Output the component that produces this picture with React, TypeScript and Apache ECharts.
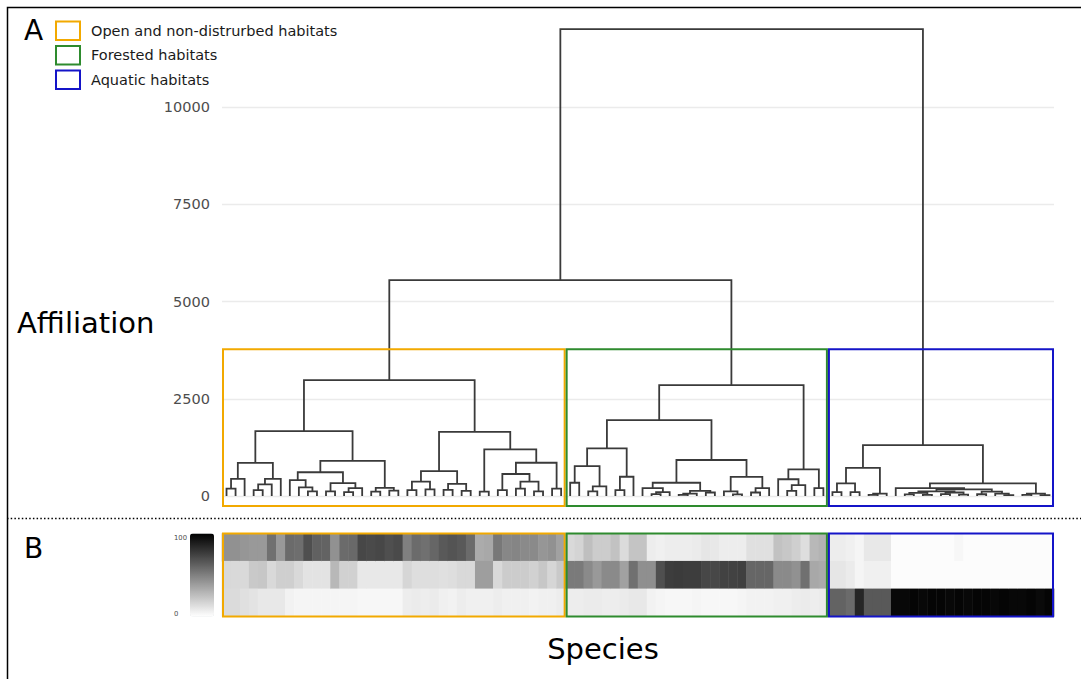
import React, { useEffect, useRef } from "react";
import * as echarts from "echarts";

// ---------- DATA ----------
// Dendrogram: internal node = [height, left, right], leaf = 0
type Tree = number | [number, Tree, Tree];

const openTree: Tree = [2980,
  [1670,
    [850, [440, [190, 0, 0], 0], [440, [300, [150, 0, 0], 0], 0]],
    [905,
      [610, [410, 0, [220, 0, [120, 0, 0]]], [330, [120, 0, 0], [200, [100, 0, 0], 0]]],
      [210, [110, 0, 0], [140, 0, 0]]]],
  [1650,
    [640, [370, [150, 0, 0], [170, 0, 0]], [310, [160, 0, 0], [130, 0, 0]]],
    [1200, [110, 0, 0],
      [855, [565, [150, 0, 0], [370, [190, 0, 0], [120, 0, 0]]], [190, 0, 0]]]]];

const forestTree: Tree = [2850,
  [1950,
    [1225, [770, [340, 0, 0], [250, [120, 0, 0], 0]], [495, [150, 0, 0], 0]],
    [925,
      [340, [200, 0, [100, [50, 0, 0], 0]], [130, [60, [30, 0, 0], 0], [90, 0, 0]]],
      [490, [120, 0, [40, 0, 0]], [200, [90, 0, 0], 0]]]],
  [685, [430, 0, [280, [130, 0, 0], 0]], [200, 0, 0]]];

const aquaticTree: Tree = [1310,
  [725, [325, [100, 0, 0], [100, 0, 0]], [60, [30, 0, 0], 0]],
  [325,
    [200, 0, [170,
      [120, [80, [40, 0, 0], [30, 0, 0]], [90, [50, 0, 0], [35, 0, 0]]],
      [110, [45, 0, 0], [60, 0, [25, 0, 0]]]]],
    [60, [30, 0, 0], [20, 0, 0]]]];

const rootHeight = 12000;
const terrestrialHeight = 5550;

const clusterNames = ["Open and non-distrurbed habitats", "Forested habitats", "Aquatic habitats"];
const clusterColors = ["#F2A900", "#2E8B2E", "#1414C8"];
const clusterLeafCounts = [38, 29, 25];
const boxBottom = -260;
const boxTop = 3770;

// Heatmap rows (affiliation scores 0-100), one value per species in leaf order
const openScores = [43, 43, 41, 40, 40, 56, 40, 58, 57, 69, 62, 61, 43, 58, 59, 72, 71, 72, 69, 71,
  50, 58, 56, 60, 65, 67, 65, 58, 33, 34, 53, 47, 48, 46, 46, 41, 43, 37,
  15, 17, 25, 20, 20, 24, 14, 23, 23, 7, 6, 7, 7, 7, 8, 10, 9, 7, 7, 7, 12, 12, 12, 24, 22, 19, 13, 28, 30,
  7, 7, 6, 4, 9, 9, 9, 1, 1, 1, 1, 1, 1, 1, 3, 1, 1, 1, 1, 1, 1, 1, 1, 1, 1];
const forestScores = [15, 15, 15, 21, 22, 15, 19, 19, 15, 11, 11, 11, 28, 18, 18, 9, 9, 9, 9, 9,
  16, 13, 13, 13, 12, 13, 15, 15, 38, 38, 15, 20, 20, 20, 18, 22, 16, 21,
  52, 52, 46, 40, 46, 46, 37, 56, 44, 44, 69, 76, 77, 76, 76, 72, 72, 74, 74, 75, 60, 60, 60, 46, 46, 43, 56, 34, 33,
  10, 10, 8, 4, 6, 6, 6, 1, 1, 1, 1, 1, 1, 1, 1, 1, 1, 1, 1, 1, 1, 1, 1, 1, 1];
const aquaticScores = [14, 14, 12, 11, 9, 9, 9, 5, 4, 4, 4, 4, 4, 4, 4, 3, 3, 3, 3, 3,
  7, 8, 7, 8, 6, 5, 7, 6, 6, 6, 7, 6, 6, 6, 5, 6, 6, 7,
  7, 7, 8, 8, 7, 7, 8, 9, 9, 5, 4, 3, 3, 3, 4, 3, 3, 3, 3, 4, 5, 5, 5, 6, 6, 7, 8, 7, 8,
  61, 61, 58, 85, 65, 65, 65, 97, 97, 98, 97, 98, 98, 97, 98, 97, 98, 98, 97, 98, 97, 97, 98, 96, 98];
const habitatRows = ["Aquatic", "Forested", "Open"]; // bottom to top

const yTickInterval = 2500;
const yMax = 12500;

// ---------- HELPERS ----------
function layoutTree(tree: Tree) {
  const segs: number[][][] = [];
  let leaf = 0;
  const walk = (t: Tree): { x: number; h: number } => {
    if (typeof t === "number") {
      leaf += 1;
      return { x: leaf, h: 0 };
    }
    const [h, a, b] = t;
    const l = walk(a);
    const r = walk(b);
    segs.push([[l.x, l.h], [l.x, h], [r.x, h], [r.x, r.h]]);
    return { x: (l.x + r.x) / 2, h };
  };
  walk(tree);
  return { segs, leaves: leaf };
}

const FONT = "DejaVu Sans";

export default function App() {
  const ref = useRef<HTMLDivElement>(null);

  useEffect(() => {
    if (!ref.current) return;
    const chart = echarts.init(ref.current, undefined, { renderer: "svg" });

    const fullTree: Tree = [rootHeight, [terrestrialHeight, openTree, forestTree], aquaticTree];
    const { segs, leaves } = layoutTree(fullTree);
    const N = leaves;
    const species = Array.from({ length: N }, (_, i) => "sp" + (i + 1));

    // cluster ranges in leaf units
    const ranges: number[][] = [];
    let start = 0.5;
    clusterLeafCounts.forEach((c) => {
      ranges.push([start, start + c]);
      start += c;
    });

    const heatData: number[][] = [];
    for (let i = 0; i < N; i++) {
      heatData.push([i, 2, openScores[i]]);
      heatData.push([i, 1, forestScores[i]]);
      heatData.push([i, 0, aquaticScores[i]]);
    }

    const boxSeries = (gridAxis: number, y0: number, y1: number) =>
      clusterNames.map((name, k) => ({
        type: "custom",
        name,
        xAxisIndex: gridAxis,
        yAxisIndex: gridAxis,
        silent: true,
        clip: false,
        z: 5,
        itemStyle: { color: clusterColors[k] },
        encode: { x: [0, 1], y: [2, 3] },
        data: [[ranges[k][0], ranges[k][1], y0, y1]],
        renderItem: (_p: any, api: any) => {
          const a = api.coord([api.value(0), api.value(3)]);
          const b = api.coord([api.value(1), api.value(2)]);
          return {
            type: "rect",
            shape: { x: a[0] + 1, y: a[1], width: b[0] - a[0] - 2, height: b[1] - a[1] },
            style: { fill: "none", stroke: clusterColors[k], lineWidth: 2 },
          };
        },
      }));

    const textStyleOf = (text: string, size: number, color: string, align: string) => ({
      text,
      fontSize: size,
      fontFamily: FONT,
      fill: color,
      align,
      verticalAlign: "middle",
      textAlign: align,
      textVerticalAlign: "middle",
    });

    const option: any = {
      animation: false,
      textStyle: { fontFamily: FONT },
      legend: {
        orient: "vertical",
        left: 55,
        top: 20.5,
        padding: 0,
        itemWidth: 24,
        itemHeight: 18.5,
        itemGap: 4,
        selectedMode: false,
        textStyle: { fontSize: 14.5, color: "#1a1a1a", fontFamily: FONT, padding: [0, 0, 0, 6], lineHeight: 16 },
        data: clusterNames.map((n, k) => ({
          name: n,
          icon: "rect",
          itemStyle: { color: "rgba(255,255,255,0)", borderColor: clusterColors[k], borderWidth: 2 },
        })),
      },
      grid: [
        { left: 222, top: 9.75, width: 832, height: 486.25 },
        { left: 222, top: 533.5, width: 832, height: 83 },
      ],
      xAxis: [
        { type: "value", gridIndex: 0, min: 0.5, max: N + 0.5, show: false },
        { type: "category", gridIndex: 1, data: species, show: false },
        { type: "value", gridIndex: 1, min: 0.5, max: N + 0.5, show: false },
      ],
      yAxis: [
        {
          type: "value",
          gridIndex: 0,
          min: 0,
          max: yMax,
          interval: yTickInterval,
          axisLine: { show: false },
          axisTick: { show: false },
          axisLabel: {
            margin: 12,
            fontSize: 14.5,
            color: "#4d4d4d",
            fontFamily: FONT,
            showMaxLabel: false,
            formatter: (v: number) => String(v),
          },
          splitLine: { showMaxLine: false, lineStyle: { color: "#ebebeb", width: 1.3 } },
        },
        { type: "category", gridIndex: 1, data: habitatRows, show: false },
        { type: "value", gridIndex: 1, min: 0, max: 3, show: false },
      ],
      visualMap: {
        type: "continuous",
        min: 0,
        max: 100,
        seriesIndex: 4,
        orient: "vertical",
        left: 190,
        top: 533.5,
        padding: 0,
        itemWidth: 24,
        itemHeight: 83,
        calculable: false,
        hoverLink: false,
        inRange: { color: ["#ffffff", "#000000"] },
      },
      series: [
        {
          type: "lines",
          coordinateSystem: "cartesian2d",
          xAxisIndex: 0,
          yAxisIndex: 0,
          polyline: true,
          silent: true,
          z: 3,
          lineStyle: { color: "#3a3a3a", width: 1.8, opacity: 1 },
          data: segs.map((c) => ({ coords: c })),
        },
        ...boxSeries(0, boxBottom, boxTop),
        {
          type: "heatmap",
          xAxisIndex: 1,
          yAxisIndex: 1,
          silent: true,
          data: heatData,
          emphasis: { disabled: true },
        },
        ...boxSeries(2, 0, 3),
      ],
      graphic: [
        {
          type: "polyline",
          silent: true,
          shape: { points: [[7.5, 680], [7.5, 7.5], [1082, 7.5]] },
          style: { stroke: "#000", lineWidth: 1.5, fill: "none" },
        },
        {
          type: "line",
          silent: true,
          shape: { x1: 7, y1: 518.5, x2: 1081, y2: 518.5 },
          style: { stroke: "#000", lineWidth: 1.5, lineDash: [1.5, 2.2] },
        },
        { type: "text", silent: true, x: 24, y: 30, style: textStyleOf("A", 28, "#000", "left") },
        { type: "text", silent: true, x: 24, y: 548, style: textStyleOf("B", 28, "#000", "left") },
        { type: "text", silent: true, x: 17, y: 323, style: textStyleOf("Affiliation", 29, "#000", "left") },
        { type: "text", silent: true, x: 603, y: 649, style: textStyleOf("Species", 29, "#000", "center") },
        { type: "text", silent: true, x: 174, y: 537.5, style: textStyleOf("100", 6.8, "#4d4d4d", "left") },
        { type: "text", silent: true, x: 174, y: 613.5, style: textStyleOf("0", 6.8, "#4d4d4d", "left") },
      ],
    };

    chart.setOption(option);
    return () => chart.dispose();
  }, []);

  return (
    <div
      ref={ref}
      style={{ position: "absolute", left: 0, top: 0, width: 1081, height: 679, background: "#fff" }}
    />
  );
}
